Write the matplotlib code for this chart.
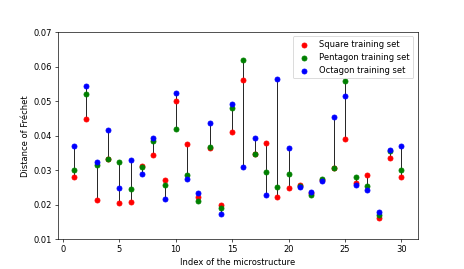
import numpy as np
import matplotlib
matplotlib.use("Agg")
import matplotlib.pyplot as plt

index = list(range(1, 31))
square = [0.0281, 0.0448, 0.0214, 0.0333, 0.0205, 0.0208, 0.0313, 0.0344, 0.0273, 0.0501,
          0.0375, 0.0223, 0.0366, 0.0201, 0.0410, 0.0561, 0.0348, 0.0379, 0.0224, 0.0250,
          0.0259, 0.0233, 0.0272, 0.0308, 0.0391, 0.0262, 0.0287, 0.0161, 0.0335, 0.0281]
pentagon = [0.0301, 0.0521, 0.0316, 0.0332, 0.0325, 0.0247, 0.0311, 0.0384, 0.0259, 0.0420,
            0.0288, 0.0212, 0.0367, 0.0191, 0.0481, 0.0620, 0.0348, 0.0296, 0.0252, 0.0290,
            0.0255, 0.0228, 0.0276, 0.0308, 0.0559, 0.0280, 0.0255, 0.0172, 0.0357, 0.0301]
octagon = [0.0371, 0.0545, 0.0323, 0.0418, 0.0249, 0.0331, 0.0290, 0.0395, 0.0218, 0.0523,
           0.0274, 0.0234, 0.0438, 0.0173, 0.0493, 0.0310, 0.0393, 0.0228, 0.0566, 0.0364,
           0.0253, 0.0236, 0.0269, 0.0454, 0.0514, 0.0258, 0.0243, 0.0179, 0.0359, 0.0371]

fig, ax = plt.subplots(figsize=(464 / 60, 269 / 60), dpi=60)

allv = np.array([square, pentagon, octagon])
ax.vlines(index, allv.min(axis=0), allv.max(axis=0), color='black', lw=1, zorder=1)
ax.scatter(index, square, color='red', label='Square training set', zorder=2)
ax.scatter(index, pentagon, color='green', label='Pentagon training set', zorder=2)
ax.scatter(index, octagon, color='blue', label='Octagon training set', zorder=2)

ax.set_ylim(0.01, 0.07)
ax.set_xlabel('Index of the microstructure')
ax.set_ylabel('Distance of Fréchet')
ax.legend(loc='upper right')

fig.savefig('out.png', dpi=60)
